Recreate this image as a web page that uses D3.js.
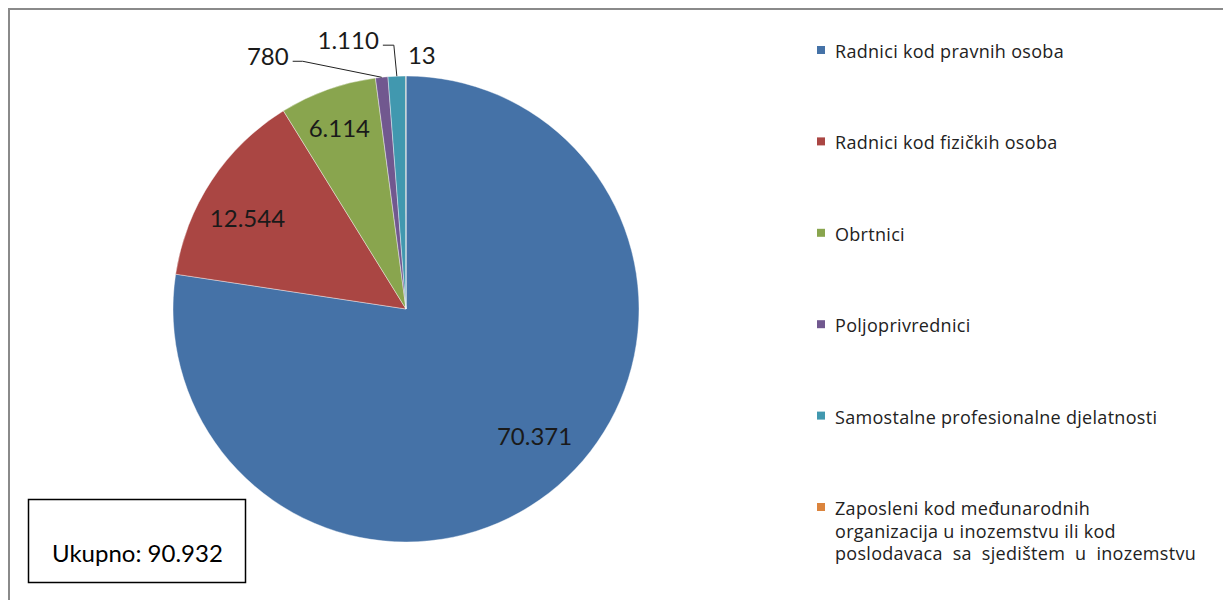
<!DOCTYPE html>
<html>
<head>
<meta charset="utf-8">
<script src="https://cdn.jsdelivr.net/npm/d3@7"></script>
<style>
  body { margin: 0; background: #fff; }
  svg { display: block; }
</style>
</head>
<body>
<svg id="chart" width="1223" height="600"></svg>
<script>
// kategorije i vrijednosti
const categories = [
  'Radnici kod pravnih osoba',
  'Radnici kod fizičkih osoba',
  'Obrtnici',
  'Poljoprivrednici',
  'Samostalne profesionalne djelatnosti',
  'Zaposleni kod međunarodnih organizacija u inozemstvu ili kod poslodavaca sa sjedištem u inozemstvu'
];
const values = [70371, 12544, 6114, 780, 1110, 13];
const valueLabels = ['70.371', '12.544', '6.114', '780', '1.110', '13'];
const colors = ['#4572A7', '#AA4643', '#89A54E', '#71588F', '#4198AF', '#DB843D'];
const totalLabel = 'Ukupno: 90.932';
// legenda: prelomljeni redovi
const legendLines = [
  ['Radnici kod pravnih osoba'],
  ['Radnici kod fizičkih osoba'],
  ['Obrtnici'],
  ['Poljoprivrednici'],
  ['Samostalne profesionalne djelatnosti'],
  ['Zaposleni kod međunarodnih', 'organizacija u inozemstvu ili kod', 'poslodavaca sa sjedištem u inozemstvu']
];

const svg = d3.select('#chart');

// okvir grafikona (vidljiv samo gore i lijevo)
svg.append('rect')
  .attr('x', 9).attr('y', 9)
  .attr('width', 1300).attr('height', 700)
  .attr('fill', 'none')
  .attr('stroke', '#8a8a8a')
  .attr('stroke-width', 2);

const cx = 406, cy = 309, R = 233;

const pie = d3.pie().sort(null).value(d => d);
const arcs = pie(values);
const arc = d3.arc().innerRadius(0).outerRadius(R);

const g = svg.append('g').attr('transform', `translate(${cx},${cy})`);

g.selectAll('path')
  .data(arcs)
  .enter().append('path')
  .attr('d', arc)
  .attr('fill', (d, i) => colors[i])
  .attr('stroke', 'rgba(255,255,255,0.5)')
  .attr('stroke-width', 0.8);

// oznake vrijednosti
const labelFont = 'Lato, "Open Sans", sans-serif';
const inner = d3.arc().innerRadius(R * 0.8).outerRadius(R * 0.8);
// pomaci oznaka unutar isječaka
const insideOffsets = [[7, -15], [-3, 11], [-4, -6]];
// pomaci za male isječke: lakat od ruba i duljina vodoravnog dijela
const leaders = { 3: { dx: -79, dy: -16, h: 10 }, 4: { dx: -3, dy: -31, h: 11 } };

function label(x, y, anchor, txt) {
  g.append('text')
    .attr('x', x).attr('y', y)
    .attr('text-anchor', anchor)
    .attr('dominant-baseline', 'central')
    .attr('font-family', labelFont)
    .attr('font-size', 24)
    .attr('fill', '#1a1a1a')
    .text(txt);
}

arcs.forEach((d, i) => {
  if (i < 3) {
    const [x, y] = inner.centroid(d);
    label(x + insideOffsets[i][0], y + insideOffsets[i][1], 'middle', valueLabels[i]);
    return;
  }
  const mid = (d.startAngle + d.endAngle) / 2;
  const px = R * Math.sin(mid), py = -R * Math.cos(mid);
  if (leaders[i]) {
    const L = leaders[i];
    const ex = px + L.dx, ey = py + L.dy;
    g.append('polyline')
      .attr('points', `${px},${py} ${ex},${ey} ${ex - L.h},${ey}`)
      .attr('fill', 'none')
      .attr('stroke', '#222')
      .attr('stroke-width', 1);
    label(ex - L.h - 4, ey - 6, 'end', valueLabels[i]);
  } else {
    label(px + 2, py - 22, 'start', valueLabels[i]);
  }
});

// legenda
const legend = svg.append('g').attr('transform', 'translate(817,0)');
const legendY = d3.scalePoint().domain(d3.range(categories.length)).range([51, 508]);
categories.forEach((c, i) => {
  const y = legendY(i);
  legend.append('rect')
    .attr('x', 0).attr('y', y - 5)
    .attr('width', 8).attr('height', 8)
    .attr('fill', colors[i]);
  const t = legend.append('text')
    .attr('font-family', '"Open Sans", sans-serif')
    .attr('font-size', 18)
    .attr('letter-spacing', 0.3)
    .attr('fill', '#222');
  legendLines[i].forEach((line, j) => {
    t.append('tspan')
      .attr('x', 18)
      .attr('y', y + j * 22.5)
      .attr('dominant-baseline', 'central')
      .attr('word-spacing', j === 2 ? 5 : 0)
      .text(line);
  });
});

// okvir s ukupnim brojem
svg.append('rect')
  .attr('x', 28.5).attr('y', 499.5)
  .attr('width', 217).attr('height', 83)
  .attr('fill', '#fff')
  .attr('stroke', '#000')
  .attr('stroke-width', 1.5);
svg.append('text')
  .attr('x', 52).attr('y', 562)
  .attr('font-family', labelFont)
  .attr('font-size', 24)
  .attr('fill', '#000')
  .text(totalLabel);
</script>
</body>
</html>
